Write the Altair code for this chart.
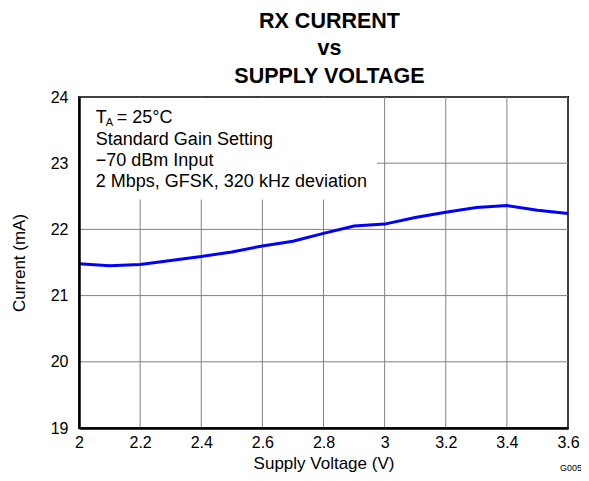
import altair as alt
import pandas as pd

voltage = [2.0, 2.1, 2.2, 2.3, 2.4, 2.5, 2.6, 2.7, 2.8, 2.9, 3.0, 3.1, 3.2, 3.3, 3.4, 3.5, 3.6]
current = [21.48, 21.45, 21.47, 21.53, 21.59, 21.66, 21.75, 21.82, 21.94, 22.05, 22.08, 22.18, 22.26, 22.33, 22.36, 22.29, 22.24]
x_ticks = [2.0, 2.2, 2.4, 2.6, 2.8, 3.0, 3.2, 3.4, 3.6]
y_ticks = [19, 20, 21, 22, 23, 24]
title_lines = ["RX CURRENT", "vs", "SUPPLY VOLTAGE"]
note_lines = ["Standard Gain Setting", "\u221270 dBm Input", "2 Mbps, GFSK, 320 kHz deviation"]
note_y = [23.35, 23.03, 22.72]

FONT = "Liberation Sans"
xs = alt.Scale(domain=[2, 3.6], nice=False, zero=False)
ys = alt.Scale(domain=[19, 24], nice=False, zero=False)

df = pd.DataFrame({"v": voltage, "i": current})

vgrid = alt.Chart(pd.DataFrame({"x": x_ticks})).mark_rule(color="#808080", strokeWidth=1).encode(
    x=alt.X("x:Q", scale=xs))
hgrid = alt.Chart(pd.DataFrame({"y": y_ticks})).mark_rule(color="#808080", strokeWidth=1).encode(
    y=alt.Y("y:Q", scale=ys))

box = alt.Chart(pd.DataFrame({"x": [2.005], "x2": [2.975], "y": [22.45], "y2": [23.985]})).mark_rect(
    color="white").encode(
    x=alt.X("x:Q", scale=xs), x2="x2:Q", y=alt.Y("y:Q", scale=ys), y2="y2:Q")

line = alt.Chart(df).mark_line(color="#0000FF", strokeWidth=3).encode(
    x=alt.X("v:Q", scale=xs,
            axis=alt.Axis(title="Supply Voltage (V)", values=x_ticks, grid=False, ticks=False,
                          labelPadding=6, titlePadding=5, zindex=1, labelFlush=False,
                          labelExpr="datum.value")),
    y=alt.Y("i:Q", scale=ys,
            axis=alt.Axis(title="Current (mA)", values=y_ticks, grid=False, ticks=False, format="d",
                          labelPadding=11, titlePadding=22, zindex=1, labelFlush=False)),
)

NX, NY = 2.055, 23.68
txt_kw = dict(font=FONT, fontSize=18, align="left", baseline="middle", color="black")
t_main = alt.Chart(pd.DataFrame({"x": [NX], "y": [NY], "t": ["T"]})).mark_text(**txt_kw).encode(
    x=alt.X("x:Q", scale=xs), y=alt.Y("y:Q", scale=ys), text="t:N")
t_sub = alt.Chart(pd.DataFrame({"x": [NX], "y": [NY], "t": ["A"]})).mark_text(
    font=FONT, fontSize=11, align="left", baseline="middle", color="black", dx=10, dy=5).encode(
    x=alt.X("x:Q", scale=xs), y=alt.Y("y:Q", scale=ys), text="t:N")
t_rest = alt.Chart(pd.DataFrame({"x": [NX], "y": [NY], "t": ["= 25\u00b0C"]})).mark_text(
    **txt_kw, dx=21).encode(
    x=alt.X("x:Q", scale=xs), y=alt.Y("y:Q", scale=ys), text="t:N")
notes = alt.Chart(pd.DataFrame({"x": [NX] * 3, "y": note_y, "t": note_lines})).mark_text(**txt_kw).encode(
    x=alt.X("x:Q", scale=xs), y=alt.Y("y:Q", scale=ys), text="t:N")

code = alt.Chart(pd.DataFrame({"x": [3.6], "y": [19], "t": ["G005"]})).mark_text(
    font=FONT, fontSize=9, align="left", baseline="middle", color="black", dx=-8, dy=40).encode(
    x=alt.X("x:Q", scale=xs), y=alt.Y("y:Q", scale=ys), text="t:N")

chart = alt.layer(vgrid, hgrid, box, line, t_main, t_sub, t_rest, notes, code).properties(
    width=489, height=331,
    padding={"left": 71, "top": 89, "right": 13, "bottom": 45},
    autosize=alt.AutoSizeParams(type="none"),
    title=alt.TitleParams(text=title_lines, font=FONT, fontSize=21.5, fontWeight="bold",
                          lineHeight=27.5, anchor="middle", offset=2, dx=6, color="black"),
).configure_view(stroke="black", strokeWidth=2).configure_axis(
    domainColor="black", domainWidth=2.5, labelFont=FONT, labelFontSize=16, labelColor="black",
    titleFont=FONT, titleFontSize=17, titleFontWeight="normal", titleColor="black",
)

chart.save("out.html", embed_options={"renderer": "svg", "actions": False})
